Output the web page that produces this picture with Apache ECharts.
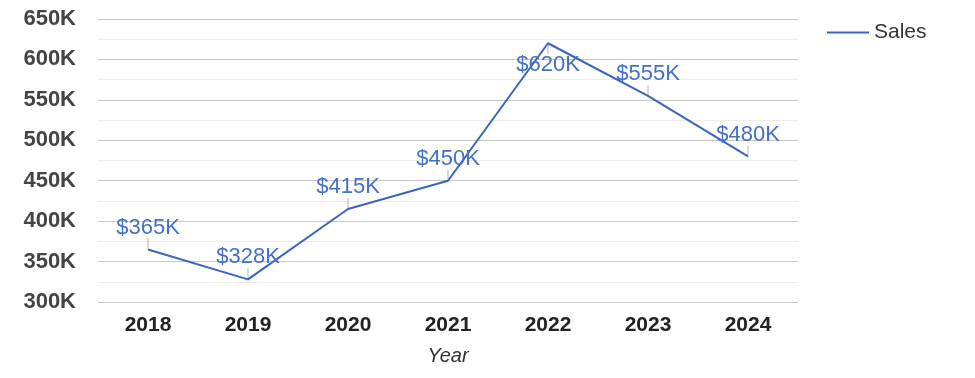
<!DOCTYPE html>
<html>
<head>
<meta charset="utf-8">
<script src="https://cdn.jsdelivr.net/npm/echarts@6/dist/echarts.min.js"></script>
<style>
  html, body { margin: 0; padding: 0; background: #fff; }
  #container { width: 975px; height: 378px; }
</style>
</head>
<body>
<div id="container"></div>
<script>
var years = ['2018', '2019', '2020', '2021', '2022', '2023', '2024'];
var sales = [365000, 328000, 415000, 450000, 620000, 555000, 480000];
var yTicks = [300000, 650000, 50000]; // min, max, interval

var lineColor = '#3b64bb';
var labelColor = '#4470c4';

function fmtK(v) { return Math.round(v / 1000) + 'K'; }

// labels above the points, except near the top where they go below
var lineData = sales.map(function (v) {
    var below = v > 600000;
    return {
        value: v,
        label: { position: below ? 'bottom' : 'top' }
    };
});
// short grey leader ticks between point and label
var tickData = sales.map(function (v) {
    var below = v > 600000;
    return {
        value: v,
        symbolOffset: [0, below ? 5 : -5.5]
    };
});

var dom = document.getElementById('container');
var myChart = echarts.init(dom);
var option = {
    animation: false,
    textStyle: { fontFamily: 'Liberation Sans, Arial, sans-serif' },
    legend: {
        data: ['Sales'],
        left: 822,
        top: 17,
        icon: 'rect',
        itemWidth: 42,
        itemHeight: 2,
        itemGap: 10,
        textStyle: { fontSize: 21, color: '#333' }
    },
    grid: {
        left: 98,
        right: 177,
        top: 19,
        bottom: 76
    },
    xAxis: {
        type: 'category',
        data: years,
        boundaryGap: true,
        name: 'Year',
        nameLocation: 'middle',
        nameGap: 44,
        nameTextStyle: { fontStyle: 'italic', fontSize: 20, color: '#333' },
        axisLine: { show: false },
        axisTick: { show: false },
        axisLabel: { fontWeight: 'bold', fontSize: 21, color: '#222', margin: 13 }
    },
    yAxis: {
        type: 'value',
        min: yTicks[0],
        max: yTicks[1],
        interval: yTicks[2],
        axisLine: { show: false },
        axisTick: { show: false },
        axisLabel: {
            fontWeight: 'bold', fontSize: 22, color: '#444', margin: 22,
            formatter: fmtK
        },
        splitLine: { lineStyle: { color: '#c8c8c8', width: 1 } },
        minorTick: { show: false, splitNumber: 2 },
        minorSplitLine: { show: true, lineStyle: { color: '#ececec', width: 1 } }
    },
    series: [
        {
            name: 'Sales',
            type: 'line',
            data: lineData,
            showSymbol: true,
            symbol: 'circle',
            symbolSize: 0,
            z: 3,
            lineStyle: { color: lineColor, width: 2 },
            itemStyle: { color: lineColor },
            label: {
                show: true,
                distance: 11,
                fontSize: 22,
                color: labelColor,
                formatter: function (p) { return '$' + fmtK(p.value); }
            }
        },
        {
            name: 'leader',
            type: 'scatter',
            data: tickData,
            symbol: 'rect',
            symbolSize: [1, 11],
            silent: true,
            z: 2,
            itemStyle: { color: '#a0a0a0' }
        }
    ]
};
myChart.setOption(option);
</script>
</body>
</html>
